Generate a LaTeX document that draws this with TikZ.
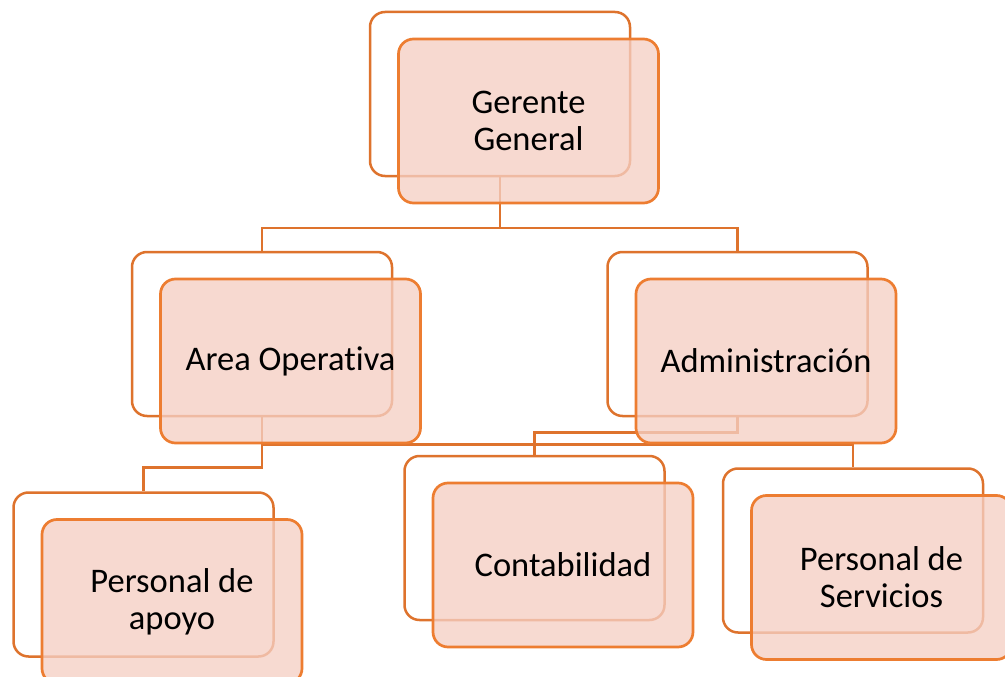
\documentclass[tikz,border=0pt]{standalone}
\usepackage{fontspec}
\setmainfont{Carlito}[Ligatures={NoCommon}]
\definecolor{frontline}{RGB}{237,125,49}
\definecolor{backline}{RGB}{222,115,45}
\definecolor{frontfill}{RGB}{245,207,196}
\begin{document}
\begin{tikzpicture}[x=1pt,y=-1pt,
  backbox/.style={draw=backline,line width=2.5pt,fill=white,rounded corners=15pt,
    minimum width=260pt,minimum height=164pt,inner sep=0pt},
  frontbox/.style={draw=frontline,line width=2.7pt,fill=frontfill,fill opacity=0.78,text opacity=1,
    rounded corners=15pt,minimum width=260pt,minimum height=164pt,inner sep=0pt,
    align=center,font=\fontsize{34.5}{37}\selectfont},
  conn/.style={draw=backline,line width=2.5pt}]
\useasboundingbox (0,0) rectangle (1005,677);
\clip (0,0) rectangle (1005,677);
% back boxes
\node[backbox] (gB) at (500,94) {};
\node[backbox] (aB) at (262,334) {};
\node[backbox] (adB) at (737.5,334) {};
\node[backbox] (apB) at (143.5,574.5) {};
\node[backbox] (cB) at (534.5,538) {};
\node[backbox] (sB) at (853,550.5) {};
% connectors
\draw[conn] (gB.south) -- (500,228);
\draw[conn] (aB.north) |- (gB.south |- 0,228) -| (adB.north);
\draw[conn] (aB.south) -- ++(0,50) -| (apB.north);
\draw[conn] (aB.south) -- ++(0,27) -| (sB.north);
\draw[conn] (adB.south) -- ++(0,15) -| (cB.north);
% front boxes
\node[frontbox] (gF) at (528.5,121) {Gerente\\General};
\node[frontbox] (aF) at (290.5,361) {Area Operativa};
\node[frontbox] (adF) at (766,361) {Administración};
\node[frontbox] (apF) at (172,601.5) {Personal de\\apoyo};
\node[frontbox] (cF) at (563,565) {Contabilidad};
\node[frontbox] (sF) at (881.5,577.5) {Personal de\\Servicios};
\end{tikzpicture}
\end{document}
